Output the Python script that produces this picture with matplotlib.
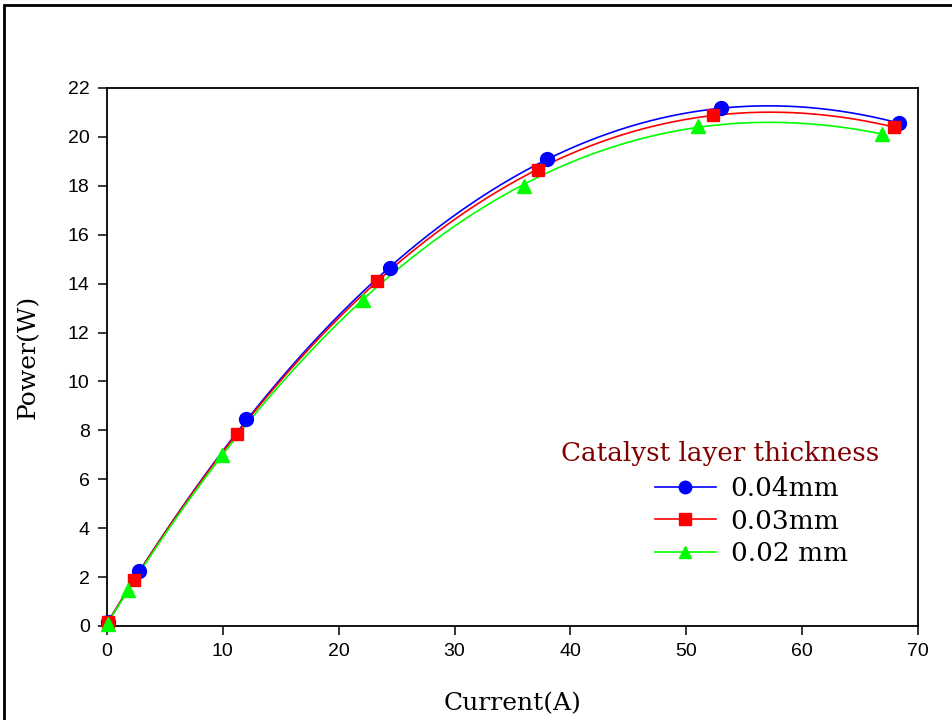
import numpy as np
import matplotlib
matplotlib.use("Agg")
import matplotlib.pyplot as plt
from matplotlib.patches import Rectangle
from matplotlib.lines import Line2D

# values
current_04 = [0.1, 2.8, 12.0, 24.4, 38.0, 53.0, 68.4]
power_04 = [0.15, 2.25, 8.45, 14.62, 19.08, 21.2, 20.55]
current_03 = [0.1, 2.3, 11.2, 23.3, 37.2, 52.3, 67.9]
power_03 = [0.16, 1.88, 7.85, 14.1, 18.65, 20.9, 20.4]
current_02 = [0.1, 1.8, 9.9, 22.1, 36.0, 51.0, 66.9]
power_02 = [0.1, 1.47, 7.0, 13.35, 18.0, 20.45, 20.1]
labels = ["0.04mm", "0.03mm", "0.02 mm"]
xticks = [0, 10, 20, 30, 40, 50, 60, 70]
yticks = [0, 2, 4, 6, 8, 10, 12, 14, 16, 18, 20, 22]

series = [
    (current_04, power_04, "#0000FF", "o", 10),
    (current_03, power_03, "#FF0000", "s", 9),
    (current_02, power_02, "#00FF00", "^", 10),
]

W, H = 953, 720
fig = plt.figure(figsize=(W / 100, H / 100), dpi=100)
ax = fig.add_axes([107 / W, 1 - 626 / H, (918 - 107) / W, (626 - 88) / H])

handles = []
for (x, y, col, mk, ms), lab in zip(series, labels):
    # smooth curve = cubic regression through the points
    coef = np.polyfit(x, y, 3)
    xs = np.linspace(min(x), max(x), 300)
    ax.plot(xs, np.polyval(coef, xs), color=col, lw=1.2, zorder=2)
    ax.plot(x, y, linestyle="none", marker=mk, ms=ms, color=col,
            markeredgecolor=col, zorder=3, clip_on=False)
    handles.append(Line2D([], [], color=col, lw=1.2, marker=mk, ms=ms - 1,
                          markeredgecolor=col))

ax.set_xlim(0, 70)
ax.set_ylim(0, 22)
ax.set_xticks(xticks)
ax.set_yticks(yticks)
for s in ax.spines.values():
    s.set_linewidth(1.3)
ax.tick_params(direction="out", length=6.5, width=1.1, pad=6)
for t in ax.get_xticklabels() + ax.get_yticklabels():
    t.set_fontfamily("Liberation Sans")
    t.set_fontsize(14)

ax.set_xlabel("Current(A)", fontfamily="DejaVu Serif", fontsize=18, labelpad=23)
ax.set_ylabel("Power(W)", fontfamily="DejaVu Serif", fontsize=18, labelpad=20)

fig.text(720 / W, 1 - 453 / H, "Catalyst layer thickness", color="#800000",
         fontfamily="DejaVu Serif", fontsize=18.8, ha="center", va="center")
leg = fig.legend(handles=handles, labels=labels, loc="upper left",
                 bbox_to_anchor=(655 / W, 1 - 476 / H), frameon=False,
                 prop={"family": "DejaVu Serif", "size": 19},
                 handlelength=2.3, handletextpad=0.57, labelspacing=0.29,
                 borderpad=0, borderaxespad=0)

# outer frame of the picture
fig.patches.append(Rectangle((4 / W, -0.05), 1.0, 1 - 5 / H + 0.05,
                             transform=fig.transFigure, fill=False,
                             edgecolor="black", lw=2, clip_on=False))

fig.savefig("out.png", dpi=100)
